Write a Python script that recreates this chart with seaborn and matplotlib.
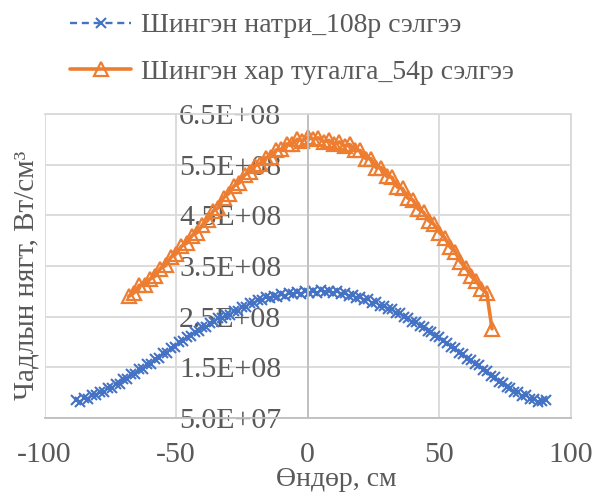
import numpy as np
import pandas as pd
import seaborn as sns
import matplotlib
matplotlib.use("Agg")
import matplotlib.pyplot as plt

#%% data (power density, W/cm3), values x 1e8
na_height = [-88.0, -86.5, -85.0, -83.5, -82.0, -80.5, -79.0, -77.5, -76.0, -74.5,
             -73.0, -71.5, -70.0, -68.5, -67.0, -65.5, -64.0, -62.5, -61.0, -59.5,
             -58.0, -56.5, -55.0, -53.5, -52.0, -50.5, -49.0, -47.5, -46.0, -44.5,
             -43.0, -41.5, -40.0, -38.5, -37.0, -35.5, -34.0, -32.5, -31.0, -29.5,
             -28.0, -26.5, -25.0, -23.5, -22.0, -20.5, -19.0, -17.5, -16.0, -14.5,
             -13.0, -11.5, -10.0, -8.5, -7.0, -5.5, -4.0, -2.5, -1.0, 0.5,
             2.0, 3.5, 5.0, 6.5, 8.0, 9.5, 11.0, 12.5, 14.0, 15.5,
             17.0, 18.5, 20.0, 21.5, 23.0, 24.5, 26.0, 27.5, 29.0, 30.5,
             32.0, 33.5, 35.0, 36.5, 38.0, 39.5, 41.0, 42.5, 44.0, 45.5,
             47.0, 48.5, 50.0, 51.5, 53.0, 54.5, 56.0, 57.5, 59.0, 60.5,
             62.0, 63.5, 65.0, 66.5, 68.0, 69.5, 71.0, 72.5, 74.0, 75.5,
             77.0, 78.5, 80.0, 81.5, 83.0, 84.5, 86.0, 87.5, 89.0, 90.5]
na_power = [0.85, 0.82, 0.89, 0.88, 0.96, 0.95, 1.02, 1.02, 1.10, 1.09,
            1.18, 1.18, 1.26, 1.27, 1.36, 1.36, 1.46, 1.47, 1.56, 1.57,
            1.67, 1.69, 1.78, 1.79, 1.89, 1.90, 2.00, 2.01, 2.10, 2.12,
            2.20, 2.21, 2.30, 2.30, 2.38, 2.39, 2.47, 2.47, 2.54, 2.54,
            2.62, 2.62, 2.70, 2.70, 2.77, 2.77, 2.83, 2.82, 2.88, 2.86,
            2.91, 2.88, 2.94, 2.91, 2.96, 2.94, 2.98, 2.95, 3.00, 2.96,
            3.01, 2.97, 3.02, 2.98, 3.01, 2.97, 3.00, 2.95, 2.97, 2.91,
            2.93, 2.87, 2.89, 2.82, 2.84, 2.77, 2.78, 2.71, 2.72, 2.65,
            2.65, 2.57, 2.57, 2.49, 2.48, 2.40, 2.39, 2.31, 2.30, 2.21,
            2.20, 2.11, 2.10, 2.01, 1.99, 1.90, 1.88, 1.79, 1.77, 1.67,
            1.65, 1.56, 1.54, 1.44, 1.42, 1.32, 1.30, 1.21, 1.20, 1.11,
            1.10, 1.02, 1.02, 0.94, 0.95, 0.87, 0.88, 0.81, 0.84, 0.85]

pb_height = [-68, -66, -64, -62, -60, -58, -56, -54, -52, -50, -48, -46, -44, -42, -40,
             -38, -36, -34, -32, -30, -28, -26, -24, -22, -20, -18, -16, -14, -12, -10,
             -8, -6, -4, -2, 0, 2, 4, 6, 8, 10, 12, 14, 16, 18, 20,
             22, 24, 26, 28, 30, 32, 34, 36, 38, 40, 42, 44, 46, 48, 50,
             52, 54, 56, 58, 60, 62, 64, 66, 68, 70]
pb_power = [2.90, 2.97, 3.12, 3.13, 3.24, 3.30, 3.45, 3.51, 3.67, 3.74, 3.89, 3.95, 4.10, 4.16, 4.31,
            4.40, 4.58, 4.65, 4.85, 4.93, 5.08, 5.14, 5.30, 5.35, 5.48, 5.52, 5.64, 5.66, 5.79, 5.80,
            5.91, 5.90, 6.00, 5.97, 6.05, 6.00, 6.03, 5.95, 5.98, 5.90, 5.95, 5.86, 5.90, 5.78, 5.78,
            5.62, 5.62, 5.44, 5.44, 5.27, 5.25, 5.06, 5.03, 4.84, 4.80, 4.62, 4.56, 4.39, 4.32, 4.16,
            4.06, 3.88, 3.78, 3.58, 3.47, 3.30, 3.20, 3.05, 2.97, 2.26]

series_names = ['Шингэн натри_108р сэлгээ', 'Шингэн хар тугалга_54р сэлгээ']
x_ticks = [-100, -50, 0, 50, 100]
y_ticks = [5e7, 1.5e8, 2.5e8, 3.5e8, 4.5e8, 5.5e8, 6.5e8]
y_tick_labels = ['5.0E+07', '1.5E+08', '2.5E+08', '3.5E+08', '4.5E+08', '5.5E+08', '6.5E+08']

df_na = pd.DataFrame({'height': na_height, 'power': np.array(na_power) * 1e8})
df_pb = pd.DataFrame({'height': pb_height, 'power': np.array(pb_power) * 1e8})

#%% plot setup
sns.set_style("whitegrid")
plt.rcParams['font.family'] = ['Liberation Serif', 'DejaVu Serif']
txt_color = '#595959'
grid_color = '#D9D9D9'
blue = '#4472C4'
orange = '#ED7D31'

fig = plt.figure(figsize=(5.95, 4.97), dpi=100)
ax = fig.add_axes([44.5 / 595, 1 - 418 / 497, 526.5 / 595, 304 / 497])

sns.lineplot(data=df_na, x='height', y='power', sort=False, color=blue,
             linestyle=(0, (3, 2)), linewidth=1.7, marker='x', markersize=7.5,
             markeredgewidth=1.5, markeredgecolor=blue, label=series_names[0], ax=ax)
sns.lineplot(data=df_pb, x='height', y='power', sort=False, color=orange,
             linewidth=2.6, marker='^', markersize=10, markerfacecolor='none',
             markeredgewidth=1.6, markeredgecolor=orange, label=series_names[1], ax=ax)
if ax.get_legend() is not None:
    ax.get_legend().remove()

ax.set_xlim(-100, 100)
ax.set_ylim(5e7, 6.5e8)
ax.set_xticks(x_ticks)
ax.set_xticklabels([str(t) for t in x_ticks])
ax.set_yticks(y_ticks)
ax.set_yticklabels(y_tick_labels)
ax.grid(True, color=grid_color, linewidth=1.3)
ax.set_xlabel(None)
ax.set_ylabel(None)

# vertical axis crosses at 0 like in Excel
ax.spines['left'].set_position(('data', 0))
ax.spines['left'].set_color('#BFBFBF')
ax.spines['left'].set_linewidth(1.3)
ax.spines['bottom'].set_color('#BFBFBF')
ax.spines['bottom'].set_linewidth(1.3)
for s in ['top', 'right']:
    ax.spines[s].set_color(grid_color)
    ax.spines[s].set_linewidth(1.3)
ax.tick_params(axis='y', length=0, pad=19, labelcolor=txt_color, labelsize=21.5)
ax.tick_params(axis='x', length=0, pad=17, labelcolor=txt_color, labelsize=21.5)

fig.text(336 / 595, 1 - 479 / 497, 'Өндөр, см', ha='center', va='center',
         color=txt_color, fontsize=20)
fig.text(27 / 595, 1 - 275 / 497, 'Чадлын нягт, Вт/см³', ha='center', va='center',
         rotation=90, color=txt_color, fontsize=21)

handles, labels = ax.get_legend_handles_labels()
leg = fig.legend(handles, labels, loc='upper left', bbox_to_anchor=(70 / 595, 1 - 13 / 497),
                 frameon=False, fontsize=20, handlelength=2.2, handletextpad=0.35,
                 labelspacing=0.75, borderpad=0, borderaxespad=0)
for t in leg.get_texts():
    t.set_color(txt_color)

fig.savefig('out.png', dpi=100)
